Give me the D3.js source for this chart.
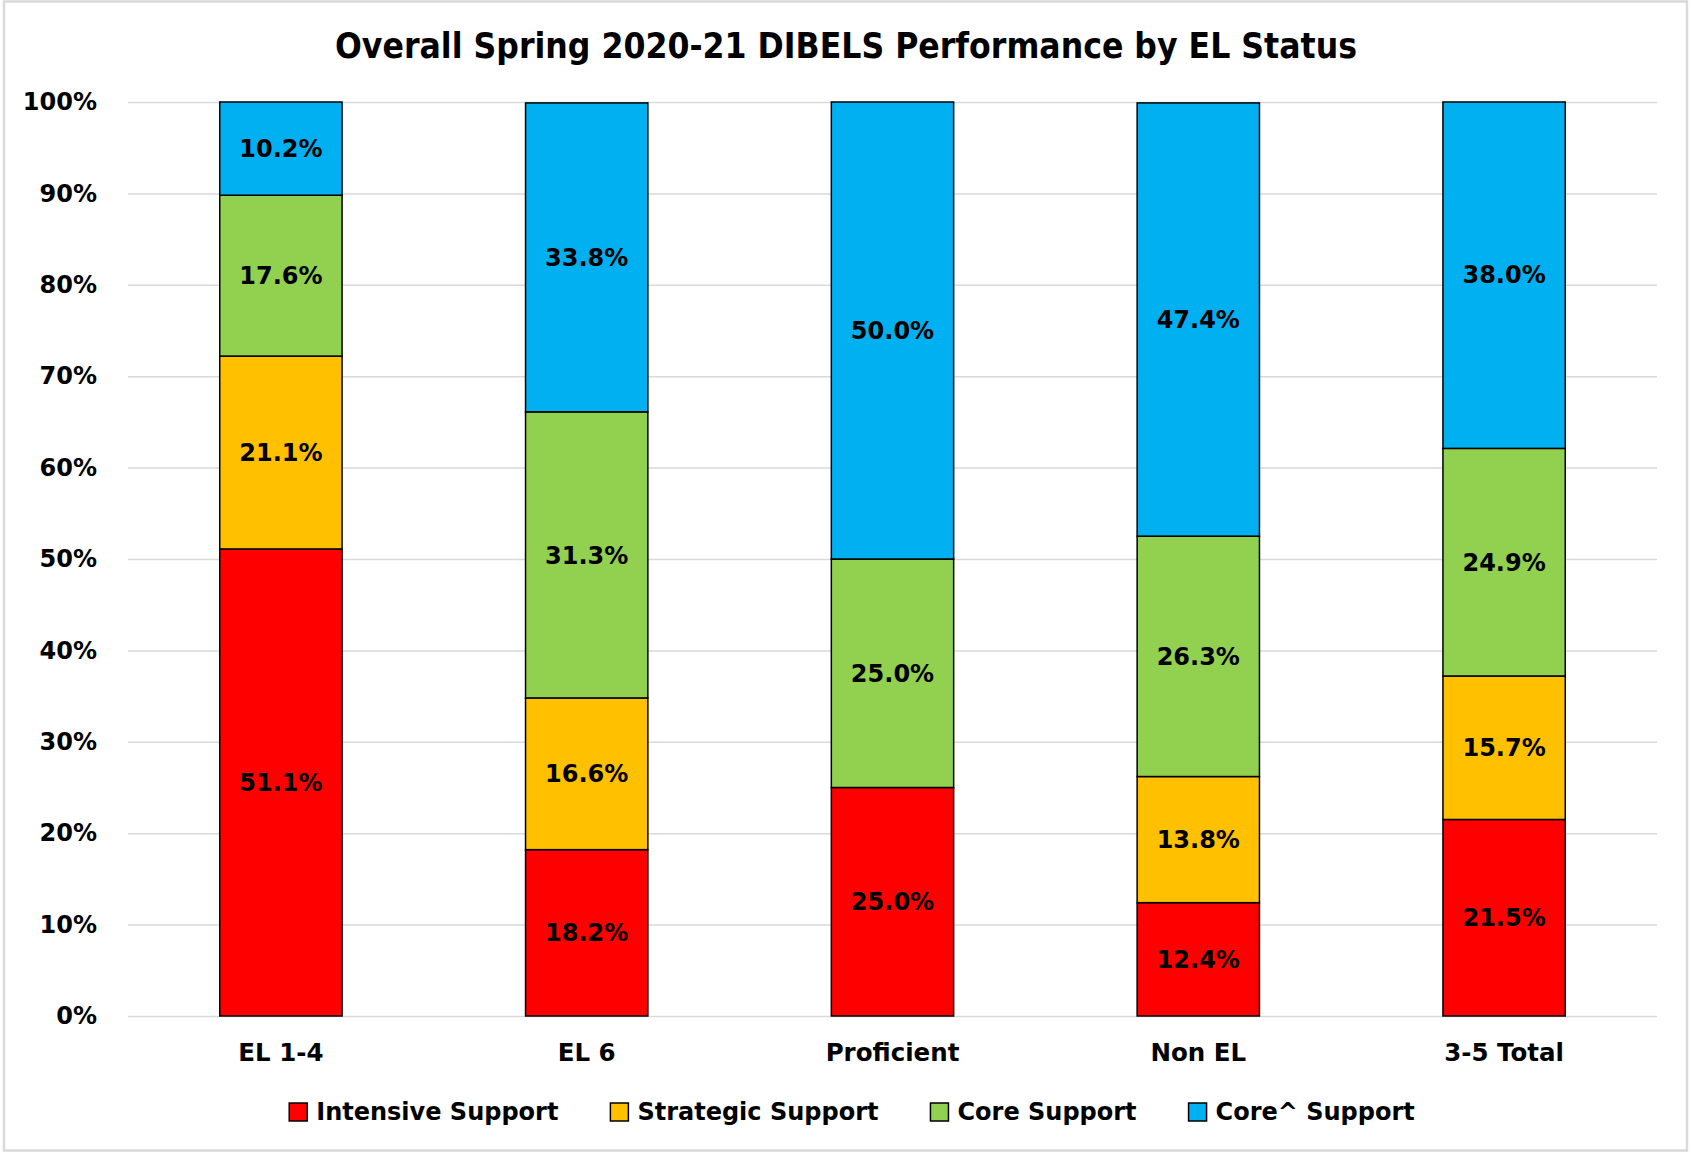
<!DOCTYPE html>
<html>
<head>
<meta charset="utf-8">
<script src="https://cdn.jsdelivr.net/npm/d3@7"></script>
<style>
  html, body { margin: 0; padding: 0; background: #fff; }
  svg { display: block; }
  text { font-family: "DejaVu Sans", Verdana, sans-serif; font-weight: bold; fill: #000; }
</style>
</head>
<body>
<svg id="chart" width="1691" height="1153"></svg>
<script>
const title = "Overall Spring 2020-21 DIBELS Performance by EL Status";
const categories = ["EL 1-4", "EL 6", "Proficient", "Non EL", "3-5 Total"];
const seriesNames = ["Intensive Support", "Strategic Support", "Core Support", "Core^ Support"];
const seriesColors = ["#FF0000", "#FFC000", "#92D050", "#00B0F0"];
const intensive = [51.1, 18.2, 25.0, 12.4, 21.5];
const strategic = [21.1, 16.6, 0.0, 13.8, 15.7];
const core = [17.6, 31.3, 25.0, 26.3, 24.9];
const coreUp = [10.2, 33.8, 50.0, 47.4, 38.0];
const yTicks = [0, 0.1, 0.2, 0.3, 0.4, 0.5, 0.6, 0.7, 0.8, 0.9, 1.0];

const seriesValues = [intensive, strategic, core, coreUp];
const rows = categories.map((c, i) => {
  const r = { cat: c };
  seriesNames.forEach((s, j) => r[s] = seriesValues[j][i] / 100);
  return r;
});

const svg = d3.select("#chart");
const W = 1691, H = 1153;
const plot = { left: 128, right: 1657, top: 102, bottom: 1016 };
const FS = 24;

// outer border
svg.append("rect").attr("x", 4).attr("y", 1.5).attr("width", W - 8).attr("height", H - 4)
  .attr("fill", "#fff").attr("stroke", "#D9D9D9").attr("stroke-width", 2.5);

const x = d3.scaleBand().domain(categories).range([plot.left, plot.right])
  .paddingInner(0.6).paddingOuter(0.3);
const y = d3.scaleLinear().domain([0, 1]).range([plot.bottom, plot.top]).clamp(true);

// gridlines + y labels
const yAxis = d3.axisLeft(y).tickValues(yTicks).tickFormat(d3.format(".0%"))
  .tickSize(-(plot.right - plot.left)).tickPadding(31);
const gy = svg.append("g").attr("transform", `translate(${plot.left},0)`).call(yAxis);
gy.select(".domain").remove();
gy.selectAll(".tick line").attr("stroke", "#D9D9D9").attr("stroke-width", 1.5);
gy.selectAll(".tick text").attr("font-size", FS).attr("font-family", "DejaVu Sans")
  .attr("font-weight", "bold").attr("fill", "#000");

// stacked bars
const stack = d3.stack().keys(seriesNames);
const stacked = stack(rows);
const layers = svg.append("g").selectAll("g").data(stacked).join("g")
  .attr("fill", (d, i) => seriesColors[i]);
layers.selectAll("rect").data(d => d.filter(p => p[1] - p[0] > 0)).join("rect")
  .attr("x", d => x(d.data.cat))
  .attr("width", x.bandwidth())
  .attr("y", d => y(d[1]))
  .attr("height", d => y(d[0]) - y(d[1]))
  .attr("stroke", "#000").attr("stroke-width", 1.5);

// data labels
const labels = svg.append("g");
stacked.forEach((layer) => {
  layer.forEach(p => {
    const v = p[1] - p[0];
    if (v <= 0) return;
    labels.append("text")
      .attr("x", x(p.data.cat) + x.bandwidth() / 2)
      .attr("y", y((p[0] + p[1]) / 2))
      .attr("dy", "0.36em")
      .attr("text-anchor", "middle")
      .attr("font-size", FS)
      .text(d3.format(".1f")(v * 100) + "%");
  });
});

// x axis labels
const xAxis = d3.axisBottom(x).tickSize(0).tickPadding(0);
const gx = svg.append("g").attr("transform", `translate(0,${plot.bottom})`).call(xAxis);
gx.select(".domain").remove();
gx.selectAll(".tick text").attr("font-size", 24.5).attr("font-family", "DejaVu Sans")
  .attr("font-weight", "bold").attr("fill", "#000").attr("dy", null).attr("y", 45);

// title
svg.append("text").attr("x", 846).attr("y", 58).attr("text-anchor", "middle")
  .attr("font-size", 35).attr("textLength", 1022).attr("lengthAdjust", "spacingAndGlyphs")
  .text(title);

// legend
const lg = svg.append("g");
const items = [];
seriesNames.forEach((s, i) => {
  const g = lg.append("g");
  g.append("rect").attr("x", 0).attr("y", -17).attr("width", 18).attr("height", 18)
    .attr("fill", seriesColors[i]).attr("stroke", "#000").attr("stroke-width", 1.5);
  const tx = g.append("text").attr("x", 27).attr("y", 0).attr("font-size", FS).text(s);
  items.push({ g, w: 27 + tx.node().getComputedTextLength() });
});
const gap = 52;
const total = d3.sum(items, d => d.w) + gap * (items.length - 1);
let cx = 852 - total / 2;
items.forEach(it => { it.g.attr("transform", `translate(${cx},1120)`); cx += it.w + gap; });
</script>
</body>
</html>
